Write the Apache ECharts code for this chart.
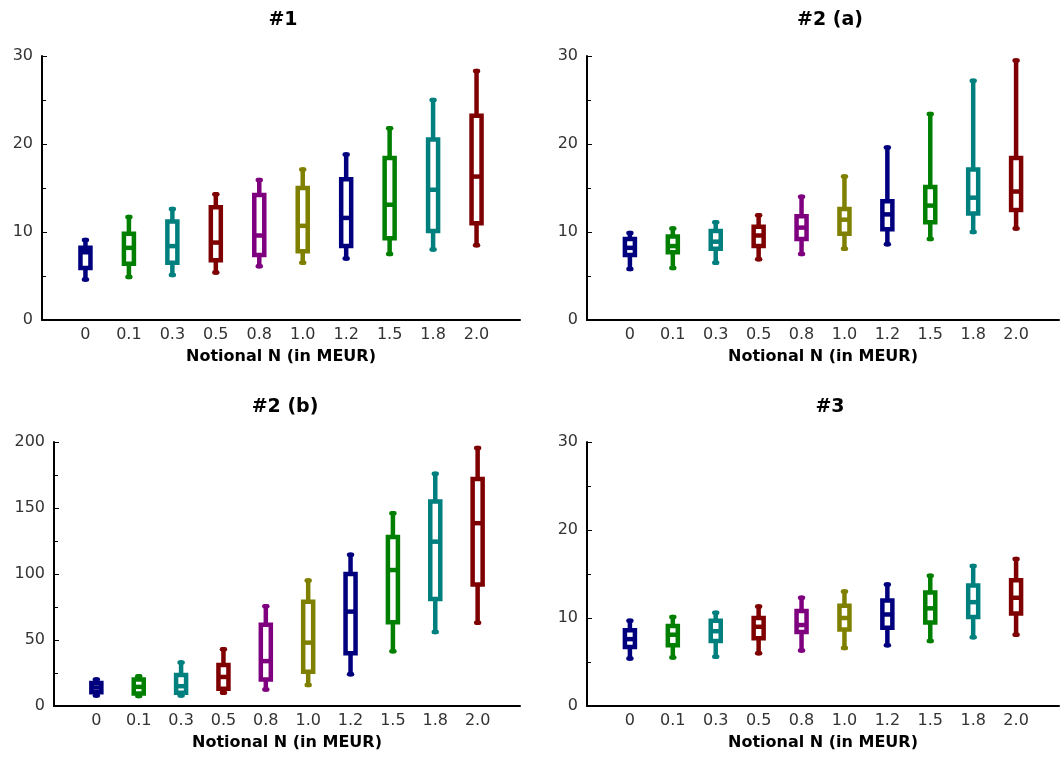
<!DOCTYPE html>
<html>
<head>
<meta charset="utf-8">
<script src="https://cdn.jsdelivr.net/npm/echarts@6/dist/echarts.min.js"></script>
<style>
  html, body { margin: 0; padding: 0; background: #fff; }
  #chart { width: 1062px; height: 757px; }
</style>
</head>
<body>
<div id="chart"></div>
<script>
// notional categories (x axis)
var categories = ['0', '0.1', '0.3', '0.5', '0.8', '1.0', '1.2', '1.5', '1.8', '2.0'];
var titles = ['#1', '#2 (a)', '#2 (b)', '#3'];
var colors = ['#00007f', '#007f00', '#007f7f', '#7f0000', '#7f007f', '#7f7f00'];

// each row: [min, q1, median, q3, max]
var boxes1 = [
    [4.6, 5.9, 7.7, 8.2, 9.1],
    [4.9, 6.4, 8.2, 9.8, 11.7],
    [5.1, 6.5, 8.4, 11.2, 12.6],
    [5.4, 6.8, 8.8, 12.8, 14.3],
    [6.1, 7.4, 9.6, 14.2, 15.9],
    [6.5, 7.8, 10.7, 15.0, 17.1],
    [7.0, 8.4, 11.6, 16.0, 18.8],
    [7.5, 9.3, 13.1, 18.4, 21.8],
    [8.0, 10.1, 14.8, 20.5, 25.0],
    [8.5, 11.0, 16.3, 23.2, 28.3]
];
var boxes2 = [
    [5.8, 7.4, 8.2, 9.2, 9.9],
    [5.9, 7.7, 8.4, 9.5, 10.4],
    [6.5, 8.1, 8.9, 10.1, 11.1],
    [6.9, 8.4, 9.6, 10.6, 11.9],
    [7.5, 9.2, 10.5, 11.8, 14.0],
    [8.1, 9.8, 11.4, 12.6, 16.3],
    [8.6, 10.3, 12.0, 13.5, 19.6],
    [9.2, 11.1, 13.0, 15.1, 23.4],
    [10.0, 12.1, 13.9, 17.1, 27.2],
    [10.4, 12.5, 14.6, 18.4, 29.5]
];
var boxes3 = [
    [8, 10.5, 14, 17.5, 20],
    [7.5, 9.5, 14.5, 20, 22.5],
    [8, 10, 15, 23.5, 33],
    [10, 13, 22, 31, 43],
    [12.5, 20, 34, 61.5, 75.5],
    [16, 26, 48, 79, 95],
    [24, 40, 71.5, 100, 114.5],
    [41.5, 63.5, 103, 128, 146],
    [56, 81, 124.5, 155, 176],
    [63, 92, 138.5, 172, 195.5]
];
var boxes4 = [
    [5.4, 6.7, 7.6, 8.6, 9.7],
    [5.5, 6.9, 8.1, 9.1, 10.1],
    [5.6, 7.4, 8.5, 9.7, 10.6],
    [6.0, 7.7, 9.0, 10.0, 11.3],
    [6.3, 8.4, 9.2, 10.8, 12.3],
    [6.6, 8.7, 10.0, 11.4, 13.0],
    [6.9, 8.9, 10.4, 12.0, 13.8],
    [7.4, 9.5, 11.1, 12.9, 14.8],
    [7.8, 10.1, 11.8, 13.7, 15.9],
    [8.1, 10.5, 12.3, 14.3, 16.7]
];
var yMax = [30, 30, 200, 30];
var yStep = [10, 10, 50, 10];

var chart = echarts.init(document.getElementById('chart'));

var font = 'DejaVu Sans';
var grids = [
    { left: 42, top: 56, width: 478, height: 264 },
    { left: 587, top: 56, width: 475, height: 264 },
    { left: 54, top: 442, width: 466, height: 264 },
    { left: 587, top: 442, width: 475, height: 264 }
];
var titlePos = [[283, 11], [830, 11], [285, 398], [830, 398]];

function renderBox(params, api) {
    var x = api.value(0);
    var lo = api.coord([x, api.value(1)]);
    var q1 = api.coord([x, api.value(2)]);
    var md = api.coord([x, api.value(3)]);
    var q3 = api.coord([x, api.value(4)]);
    var hi = api.coord([x, api.value(5)]);
    var c = colors[params.dataIndex % colors.length];
    var hw = 5, cap = 1.5, lw = 4.5;
    var line = { stroke: c, lineWidth: lw, lineCap: 'round' };
    return {
        type: 'group',
        children: [
            { type: 'line', shape: { x1: hi[0], y1: hi[1], x2: q3[0], y2: q3[1] }, style: line },
            { type: 'line', shape: { x1: lo[0], y1: lo[1], x2: q1[0], y2: q1[1] }, style: line },
            { type: 'line', shape: { x1: hi[0] - cap, y1: hi[1], x2: hi[0] + cap, y2: hi[1] }, style: line },
            { type: 'line', shape: { x1: lo[0] - cap, y1: lo[1], x2: lo[0] + cap, y2: lo[1] }, style: line },
            { type: 'rect', shape: { x: q3[0] - hw, y: q3[1], width: hw * 2, height: q1[1] - q3[1] },
              style: { stroke: c, lineWidth: lw, fill: '#fff' } },
            { type: 'line', shape: { x1: md[0] - hw, y1: md[1], x2: md[0] + hw, y2: md[1] },
              style: { stroke: c, lineWidth: lw } }
        ]
    };
}

var allBoxes = [boxes1, boxes2, boxes3, boxes4];
var option = {
    backgroundColor: '#fff',
    animation: false,
    title: [],
    grid: grids,
    xAxis: [],
    yAxis: [],
    series: []
};

for (var i = 0; i < 4; i++) {
    option.title.push({
        text: titles[i],
        left: titlePos[i][0],
        top: titlePos[i][1],
        textAlign: 'center',
        padding: 0,
        textStyle: { fontFamily: font, fontWeight: 'bold', fontSize: 19, color: '#000' }
    });
    option.xAxis.push({
        type: 'value',
        gridIndex: i,
        min: -1,
        max: 10,
        interval: 1,
        splitLine: { show: false },
        axisTick: { show: false },
        axisLine: { show: true, onZero: false, lineStyle: { color: '#000', width: 2 } },
        axisLabel: {
            margin: 7,
            fontFamily: font,
            fontSize: 16,
            color: '#333',
            showMinLabel: true,
            showMaxLabel: true,
            formatter: function (v) {
                return (v >= 0 && v < categories.length) ? categories[v] : '';
            }
        },
        name: 'Notional N (in MEUR)',
        nameLocation: 'middle',
        nameGap: 29,
        nameTextStyle: { fontFamily: font, fontWeight: 'bold', fontSize: 16, color: '#000' }
    });
    option.yAxis.push({
        type: 'value',
        gridIndex: i,
        min: 0,
        max: yMax[i],
        interval: yStep[i],
        splitLine: { show: false },
        axisLine: { show: true, onZero: false, lineStyle: { color: '#000', width: 2 } },
        axisTick: { show: true, inside: true, length: 5, lineStyle: { color: '#000', width: 1 } },
        minorTick: { show: true, splitNumber: 2, length: 4, lineStyle: { color: '#000', width: 1 } },
        axisLabel: { margin: 9, fontFamily: font, fontSize: 16, color: '#333' }
    });
    option.series.push({
        type: 'custom',
        xAxisIndex: i,
        yAxisIndex: i,
        renderItem: renderBox,
        encode: { x: 0, y: [1, 2, 3, 4, 5] },
        data: allBoxes[i].map(function (b, k) { return [k].concat(b); })
    });
}

chart.setOption(option);
</script>
</body>
</html>
